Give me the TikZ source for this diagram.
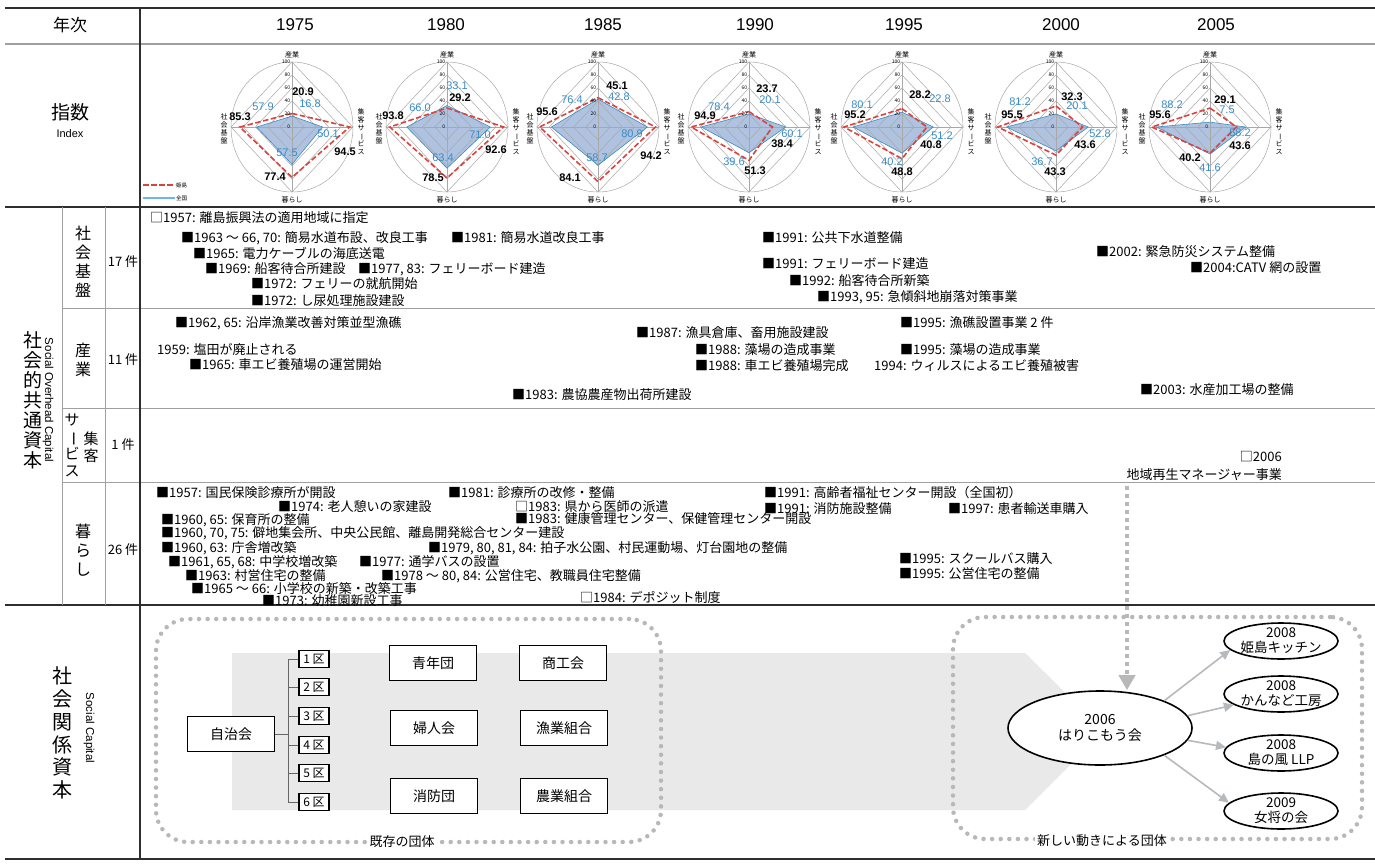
\documentclass[tikz,border=0pt]{standalone}
\usepackage{fontspec}
\setmainfont{Noto Sans CJK JP}
\newfontfamily\latf{Liberation Sans}
\usepackage{graphicx}
\usetikzlibrary{arrows.meta,shapes.geometric}
\definecolor{gridc}{HTML}{A8A8A8}
\definecolor{rulegray}{HTML}{A0A0A0}
\definecolor{darkrule}{HTML}{2E2E2E}
\definecolor{hred}{HTML}{D9443F}
\definecolor{nblue}{HTML}{3A8CC4}
\definecolor{nline}{HTML}{6DB6E6}
\definecolor{nfill}{HTML}{AFC2E0}
\definecolor{dotgray}{HTML}{B8B8B8}
\definecolor{chevgray}{HTML}{E9E9E9}
\definecolor{arrgray}{HTML}{B6BABE}
\definecolor{treegray}{HTML}{666666}
\newcommand\fsz[2]{\fontsize{#1}{#2}\selectfont}
\newcommand\vbar{\rotatebox[origin=c]{-90}{ー}}
\tikzset{
  gridline/.style={draw=gridc, line width=0.5pt},
  hdash/.style={draw=hred, line width=1.6pt, dash pattern=on 5.5pt off 2.5pt},
  tick/.style={anchor=east, inner sep=0.6pt, font=\fsz{5}{5}},
  axl/.style={inner sep=0pt, align=center, font=\fsz{7}{8}},
  valb/.style={inner sep=0pt, font=\latf\bfseries\fsz{11}{11}},
  valn/.style={inner sep=0pt, text=nblue, font=\latf\fsz{11}{11}},
  item/.style={anchor=west, inner sep=0pt, font=\fsz{13}{13}},
  itemr/.style={anchor=east, inner sep=0pt, font=\fsz{13}{13}},
  thin rule/.style={draw=rulegray, line width=0.9pt},
  thick rule/.style={draw=darkrule, line width=2pt},
  vlabel/.style={inner sep=0pt, align=center},
  gbox/.style={draw=black, line width=1.6pt, fill=white, minimum width=87pt, minimum height=35pt, inner sep=0pt, font=\fsz{14}{16}},
  dbox/.style={draw=black, line width=1.1pt, fill=white, minimum width=30pt, minimum height=17pt, inner sep=0pt, font=\fsz{12}{12}},
  dotbox/.style={draw=dotgray, line width=4.5pt, dash pattern=on 0pt off 8.6pt, line cap=round, rounded corners=32pt, inner sep=0pt},
  grplabel/.style={fill=white, inner sep=2pt, font=\fsz{13}{13}},
  ellbig/.style={ellipse, draw=black, line width=1.6pt, fill=white, inner sep=0pt},
  etext/.style={align=center, inner sep=0pt, font=\fsz{14}{16}},
  garrow/.style={draw=arrgray, line width=1.6pt, -{Triangle[length=10pt,width=9pt]}},
  dasharrow/.style={draw=dotgray, line width=4.5pt, dash pattern=on 4pt off 4pt, -{Triangle[length=15pt,width=16pt]}},
}
\newcommand\radarchart[9]{%
\begin{scope}[shift={(#1,127)}]
  \fill[nfill] (0,-0.65*#6) -- (0.61*#7,0) -- (0,0.65*#8) -- (-0.61*#9,0) -- cycle;
  \draw[gridline] (0,-65) -- (0,65) (-61,0) -- (61,0);
  \foreach \f in {0.2,0.4,0.6,0.8,1}{\draw[gridline] (0,-65*\f) -- (61*\f,0) -- (0,65*\f) -- (-61*\f,0) -- cycle;}
  \draw[gridline] (0,0) ellipse [x radius=61pt, y radius=65pt];
  \draw[nblue, line width=0.6pt] (0,-0.65*#6) -- (0.61*#7,0) -- (0,0.65*#8) -- (-0.61*#9,0) -- cycle;
  \draw[hdash] (0,-0.65*#2) -- (0.61*#3,0) -- (0,0.65*#4) -- (-0.61*#5,0) -- cycle;
  \foreach \t in {0,20,40,60,80,100}{\node[tick] (tk#1x\t) at (-1,-0.65*\t) {\t};}
  \node[axl] (axa#1) at (0,-72) {産業};
  \node[axl] (axb#1) at (0,73) {暮らし};
  \node[axl] (axc#1) at (-68,2) {社\\会\\基\\盤};
  \node[axl] (axd#1) at (69,5) {集\\客\\サ\\\vbar\\ビ\\ス};
\end{scope}}

\begin{document}
\begin{tikzpicture}[x=1pt,y=-1pt]
\useasboundingbox (0,0) rectangle (1375,864);
\fill[white] (0,0) rectangle (1375,864);

% ---------- table rules ----------
\draw[thick rule] (5,8) -- (1375,8);
\draw[thin rule, line width=1.4pt] (5,44) -- (1375,44);
\draw[thick rule] (5,207) -- (1375,207);
\draw[thin rule] (62,308) -- (1375,308);
\draw[thin rule] (62,408) -- (1375,408);
\draw[thin rule] (62,482) -- (1375,482);
\draw[thick rule] (5,605) -- (1375,605);
\draw[thick rule, line width=2.4pt] (5,859) -- (1375,859);
\draw[thin rule] (62,207) -- (62,605);
\draw[thin rule] (105,207) -- (105,605);
\draw[draw=darkrule, line width=1.6pt] (140,8) -- (140,859);

% ---------- header ----------
\node[font=\fsz{17}{17}] (hyear) at (70,25) {年次};
\foreach \x/\y in {295/1975,446/1980,603/1985,755/1990,904/1995,1061/2000,1216/2005}
  {\node[font=\latf\fsz{17}{17}] (hy\y) at (\x,25) {\y};}

% ---------- index row ----------
\node[font=\fsz{19}{19}] (idxj) at (70,112) {指数};
\node[font=\latf\fsz{11}{11}] (idxe) at (70,134) {Index};

\radarchart{292}{20.9}{94.5}{77.4}{85.3}{16.8}{50.1}{57.5}{57.9}
\radarchart{447}{29.2}{92.6}{78.5}{93.8}{33.1}{71.0}{63.4}{66.0}
\radarchart{598}{45.1}{94.2}{84.1}{95.6}{42.8}{80.9}{58.7}{76.4}
\radarchart{749}{23.7}{38.4}{51.3}{94.9}{20.1}{60.1}{39.6}{78.4}
\radarchart{902}{28.2}{40.8}{48.8}{95.2}{22.8}{51.2}{40.2}{80.1}
\radarchart{1056}{32.3}{43.6}{43.3}{95.5}{20.1}{52.8}{36.7}{81.2}
\radarchart{1210}{29.1}{43.6}{40.2}{95.6}{7.5}{58.2}{41.6}{88.2}

\foreach \px/\py/\v in {303/92/20.9, 240/117/85.3, 345/152/94.5, 275/177/77.4,
  460/98/29.2, 393/116/93.8, 496/150/92.6, 433/178/78.5,
  617/86/45.1, 547/112/95.6, 651/156/94.2, 570/178/84.1,
  767/89/23.7, 705/116/94.9, 782/144/38.4, 755/171/51.3,
  920/95/28.2, 855/115/95.2, 931/145/40.8, 902/172/48.8,
  1072/97/32.3, 1012/115/95.5, 1085/145/43.6, 1055/172/43.3,
  1225/100/29.1, 1160/115/95.6, 1240/146/43.6, 1190/158/40.2}
  {\node[valb] (vb\px\py) at (\px,\py) {\v};}
\foreach \px/\py/\v in {310/104/16.8, 263/107/57.9, 328/134/50.1, 287/153/57.5,
  457/86/33.1, 420/108/66.0, 480/135/71.0, 443/158/63.4,
  619/97/42.8, 572/100/76.4, 632/134/80.9, 597/158/58.7,
  770/100/20.1, 719/107/78.4, 792/134/60.1, 734/162/39.6,
  940/99/22.8, 862/105/80.1, 942/136/51.2, 892/162/40.2,
  1077/106/20.1, 1020/102/81.2, 1100/134/52.8, 1042/162/36.7,
  1227/110/7.5, 1172/105/88.2, 1240/133/58.2, 1210/168/41.6}
  {\node[valn] (vn\px\py) at (\px,\py) {\v};}

% legend
\coordinate (lg1a) at (143,185); \coordinate (lg1b) at (175,185);
\coordinate (lg2a) at (143,198); \coordinate (lg2b) at (175,198);
\draw[hdash, line width=1.3pt] (lg1a) -- (lg1b);
\draw[nline, line width=1.5pt] (lg2a) -- (lg2b);
\node[anchor=west, inner sep=1pt, font=\fsz{5.5}{5.5}] (lgt1) at (lg1b) {姫島};
\node[anchor=west, inner sep=1pt, font=\fsz{5.5}{5.5}] (lgt2) at (lg2b) {全国};

% ---------- left labels ----------
\node[vlabel, font=\fsz{19}{20}] (soc) at (33,400) {社\\会\\的\\共\\通\\資\\本};
\node[rotate=-90, inner sep=0pt, font=\latf\fsz{11.5}{11.5}] (soce) at (48,400) {Social Overhead Capital};
\node[vlabel, font=\fsz{16}{19}] (c1) at (83,262) {社\\会\\基\\盤};
\node[vlabel, font=\fsz{16}{19}] (c2) at (83,360) {産\\業};
\node[vlabel, font=\fsz{15}{17}] (c3a) at (72,445) {サ\\\vbar\\ビ\\ス};
\node[vlabel, font=\fsz{15}{17}] (c3b) at (91,447) {集\\客};
\node[vlabel, font=\fsz{16}{19}] (c4) at (83,550) {暮\\ら\\し};
\node[font=\fsz{13}{13}, inner sep=0pt] (n1) at (123,262) {17 件};
\node[font=\fsz{13}{13}, inner sep=0pt] (n2) at (123,360) {11 件};
\node[font=\fsz{13}{13}, inner sep=0pt] (n3) at (123,445) {1 件};
\node[font=\fsz{13}{13}, inner sep=0pt] (n4) at (123,550) {26 件};
\node[vlabel, font=\fsz{20}{22.8}] (scj) at (62,733) {社\\会\\関\\係\\資\\本};
\node[rotate=-90, inner sep=0pt, font=\latf\fsz{11.5}{11.5}] (sce) at (89,728) {Social Capital};

% ---------- social infrastructure ----------
\node[item] (a1) at (150,218) {□1957: 離島振興法の適用地域に指定};
\node[item] (a2) at (181,238) {■1963 ～ 66, 70: 簡易水道布設、改良工事};
\node[item] (a3) at (451,238) {■1981: 簡易水道改良工事};
\node[item] (a4) at (193,253) {■1965: 電力ケーブルの海底送電};
\node[item] (a5) at (205,269) {■1969: 船客待合所建設};
\node[item] (a6) at (358,269) {■1977, 83: フェリーボード建造};
\node[item] (a7) at (251,284) {■1972: フェリーの就航開始};
\node[item] (a8) at (251,301) {■1972: し尿処理施設建設};
\node[item] (a9) at (762,238) {■1991: 公共下水道整備};
\node[item] (a10) at (762,264) {■1991: フェリーボード建造};
\node[item] (a11) at (789,281) {■1992: 船客待合所新築};
\node[item] (a12) at (817,297) {■1993, 95: 急傾斜地崩落対策事業};
\node[item] (a13) at (1096,252) {■2002: 緊急防災システム整備};
\node[item] (a14) at (1190,268) {■2004:CATV 網の設置};

% ---------- industry ----------
\node[item] (b1) at (175,323) {■1962, 65: 沿岸漁業改善対策並型漁礁};
\node[item] (b2) at (636,333) {■1987: 漁具倉庫、畜用施設建設};
\node[item] (b3) at (900,323) {■1995: 漁礁設置事業 2 件};
\node[item] (b4) at (157,350) {1959: 塩田が廃止される};
\node[item] (b5) at (695,350) {■1988: 藻場の造成事業};
\node[item] (b6) at (900,350) {■1995: 藻場の造成事業};
\node[item] (b7) at (189,365) {■1965: 車エビ養殖場の運営開始};
\node[item] (b8) at (695,366) {■1988: 車エビ養殖場完成};
\node[item] (b9) at (874,366) {1994: ウィルスによるエビ養殖被害};
\node[item] (b10) at (512,395) {■1983: 農協農産物出荷所建設};
\node[item] (b11) at (1140,390) {■2003: 水産加工場の整備};

% ---------- visitor services ----------
\node[itemr] (c1t) at (1282,457) {□2006};
\node[itemr] (c2t) at (1282,475) {地域再生マネージャー事業};

% ---------- living ----------
\node[item] (d1) at (156,493) {■1957: 国民保険診療所が開設};
\node[item] (d2) at (448,493) {■1981: 診療所の改修・整備};
\node[item] (d3) at (764,493) {■1991: 高齢者福祉センター開設（全国初）};
\node[item] (d4) at (278,507) {■1974: 老人憩いの家建設};
\node[item] (d5) at (515,507) {□1983: 県から医師の派遣};
\node[item] (d6) at (764,509) {■1991: 消防施設整備};
\node[item] (d7) at (948,509) {■1997: 患者輸送車購入};
\node[item] (d8) at (161,520) {■1960, 65: 保育所の整備};
\node[item] (d9) at (515,519) {■1983: 健康管理センター、保健管理センター開設};
\node[item] (d10) at (161,533) {■1960, 70, 75: 僻地集会所、中央公民館、離島開発総合センター建設};
\node[item] (d11) at (161,548) {■1960, 63: 庁舎増改築};
\node[item] (d12) at (428,548) {■1979, 80, 81, 84: 拍子水公園、村民運動場、灯台園地の整備};
\node[item] (d13) at (168,562) {■1961, 65, 68: 中学校増改築};
\node[item] (d14) at (359,562) {■1977: 通学バスの設置};
\node[item] (d15) at (899,559) {■1995: スクールバス購入};
\node[item] (d16) at (185,576) {■1963: 村営住宅の整備};
\node[item] (d17) at (381,576) {■1978 ～ 80, 84: 公営住宅、教職員住宅整備};
\node[item] (d18) at (899,574) {■1995: 公営住宅の整備};
\node[item] (d19) at (191,589) {■1965 ～ 66: 小学校の新築・改築工事};
\node[item] (d20) at (580,597) {□1984: デポジット制度};
\node[item] (d21) at (262,601) {■1973: 幼稚園新設工事};

% ---------- social capital ----------
\fill[chevgray] (232,653) -- (1025,653) -- (1104,731) -- (1025,810) -- (232,810) -- cycle;
\node[dotbox, minimum width=505pt, minimum height=223pt] (oldgrp) at (408.5,730.5) {};
\node[dotbox, minimum width=409pt, minimum height=222pt] (newgrp) at (1157.5,728) {};
\node[grplabel] (oldlbl) at (402,842) {既存の団体};
\node[grplabel] (newlbl) at (1102,841) {新しい動きによる団体};

\node[gbox] (jichi) at (231,734) {自治会};
\foreach \i/\y in {1/659,2/687,3/716,4/745,5/773,6/802}
  {\node[dbox] (k\i) at (314,\y) {\i{} 区};}
\coordinate (trunk) at (288,734);
\draw[treegray, line width=1pt] (jichi.east) -- (trunk);
\draw[treegray, line width=1pt] (trunk |- k1.west) -- (trunk |- k6.west);
\foreach \i in {1,...,6}{\draw[treegray, line width=1pt] (trunk |- k\i.west) -- (k\i.west);}

\node[gbox] (seinen) at (433,663) {青年団};
\node[gbox] (shoko) at (563,663) {商工会};
\node[gbox] (fujin) at (434,728) {婦人会};
\node[gbox] (gyogyo) at (564,728) {漁業組合};
\node[gbox] (shobo) at (434,796) {消防団};
\node[gbox] (nogyo) at (564,796) {農業組合};

\node[ellbig, minimum width=184pt, minimum height=74pt] (hari) at (1100,728) {};
\node[etext] (harit) at (hari) {2006\\はりこもう会};
\foreach \i/\y/\t in {1/641/{2008\\姫島キッチン},2/694/{2008\\かんなど工房},3/753/{2008\\島の風 LLP},4/811/{2009\\女将の会}}
  {\node[ellbig, minimum width=114pt, minimum height=36pt] (e\i) at (1281,\y) {};
   \node[etext, font=\fsz{13.5}{15}] (e\i t) at (e\i) {\t};}
\draw[garrow] (hari.23) -- (e1.190);
\draw[garrow] (hari.8) -- (e2.193);
\draw[garrow] (hari.352) -- (e3.174);
\draw[garrow] (hari.337) -- (e4.171);

\coordinate (dtop) at (1127,486);
\draw[dasharrow] (dtop) -- (dtop |- hari.north);
\end{tikzpicture}
\end{document}
